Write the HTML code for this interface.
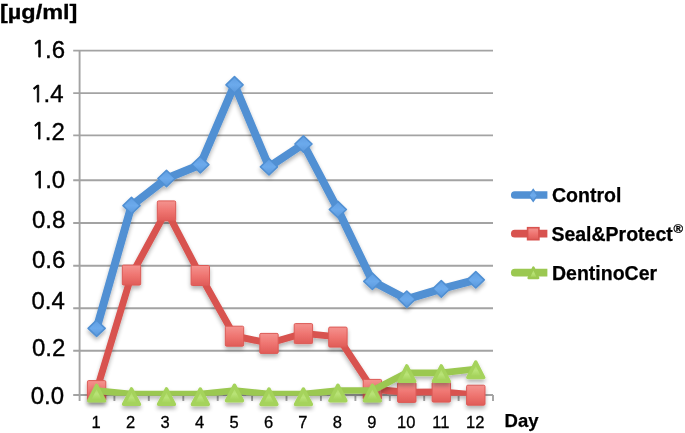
<!DOCTYPE html>
<html><head><meta charset="utf-8"><title>Chart</title>
<style>
html,body{margin:0;padding:0;background:#fff;}
svg{display:block;font-family:"Liberation Sans",sans-serif;}
</style></head><body>
<svg width="685" height="433" viewBox="0 0 685 433">
<defs>
<filter id="sh" x="-10%" y="-10%" width="120%" height="130%">
<feGaussianBlur in="SourceAlpha" stdDeviation="2"/>
<feOffset dx="0" dy="2.6" result="b"/>
<feComponentTransfer><feFuncA type="linear" slope="0.3"/></feComponentTransfer>
<feMerge><feMergeNode/><feMergeNode in="SourceGraphic"/></feMerge>
</filter>
<clipPath id="pa"><rect x="70" y="0" width="440" height="395.8"/></clipPath>
<linearGradient id="gb" x1="0" y1="0" x2="0" y2="1"><stop offset="0" stop-color="#5f9ee2"/><stop offset="0.5" stop-color="#6caaec"/><stop offset="1" stop-color="#5a98dc"/></linearGradient>
<linearGradient id="gr" x1="0" y1="0" x2="0" y2="1"><stop offset="0" stop-color="#f4938f"/><stop offset="0.5" stop-color="#ef7571"/><stop offset="1" stop-color="#e05c58"/></linearGradient>
<linearGradient id="gg" x1="0" y1="0" x2="0" y2="1"><stop offset="0" stop-color="#a8d55e"/><stop offset="0.55" stop-color="#b9e377"/><stop offset="1" stop-color="#a0cf55"/></linearGradient>
</defs>
<rect width="685" height="433" fill="#fff"/>

<g stroke="#a3a3a3" stroke-width="1.9" fill="none">
<line x1="73.2" y1="395.0" x2="493.0" y2="395.0"/>
<line x1="73.2" y1="350.8" x2="493.0" y2="350.8"/>
<line x1="73.2" y1="308.3" x2="493.0" y2="308.3"/>
<line x1="73.2" y1="265.7" x2="493.0" y2="265.7"/>
<line x1="73.2" y1="223.0" x2="493.0" y2="223.0"/>
<line x1="73.2" y1="180.3" x2="493.0" y2="180.3"/>
<line x1="73.2" y1="135.4" x2="493.0" y2="135.4"/>
<line x1="73.2" y1="93.1" x2="493.0" y2="93.1"/>
<line x1="73.2" y1="50.6" x2="493.0" y2="50.6"/>
<line x1="79.6" y1="50.6" x2="79.6" y2="401.0"/>
<line x1="114.4" y1="395.0" x2="114.4" y2="401.0"/>
<line x1="148.8" y1="395.0" x2="148.8" y2="401.0"/>
<line x1="183.3" y1="395.0" x2="183.3" y2="401.0"/>
<line x1="217.7" y1="395.0" x2="217.7" y2="401.0"/>
<line x1="252.1" y1="395.0" x2="252.1" y2="401.0"/>
<line x1="286.5" y1="395.0" x2="286.5" y2="401.0"/>
<line x1="320.9" y1="395.0" x2="320.9" y2="401.0"/>
<line x1="355.4" y1="395.0" x2="355.4" y2="401.0"/>
<line x1="389.8" y1="395.0" x2="389.8" y2="401.0"/>
<line x1="424.2" y1="395.0" x2="424.2" y2="401.0"/>
<line x1="458.6" y1="395.0" x2="458.6" y2="401.0"/>
<line x1="493.0" y1="395.0" x2="493.0" y2="401.0"/>
</g>
<g font-size="24" fill="#000" stroke="#000" stroke-width="0.35" text-anchor="end">
<text x="64.0" y="404.3">0.0</text>
<text x="65.4" y="356.2">0.2</text>
<text x="64.9" y="308.5">0.4</text>
<text x="65.4" y="267.8">0.6</text>
<text x="65.3" y="228.3">0.8</text>
<text x="65.2" y="188.0"><tspan font-family="NanumGothic, 'Liberation Sans', sans-serif" font-size="23.2" stroke-width="0.75" dy="-0.5">1</tspan><tspan dx="-0.8" dy="0.5">.0</tspan></text>
<text x="64.8" y="139.9"><tspan font-family="NanumGothic, 'Liberation Sans', sans-serif" font-size="23.2" stroke-width="0.75" dy="-0.5">1</tspan><tspan dx="-0.8" dy="0.5">.2</tspan></text>
<text x="63.6" y="102.4"><tspan font-family="NanumGothic, 'Liberation Sans', sans-serif" font-size="23.2" stroke-width="0.75" dy="-0.5">1</tspan><tspan dx="-0.8" dy="0.5">.4</tspan></text>
<text x="65.1" y="57.8"><tspan font-family="NanumGothic, 'Liberation Sans', sans-serif" font-size="23.2" stroke-width="0.75" dy="-0.5">1</tspan><tspan dx="-0.8" dy="0.5">.6</tspan></text>
</g>
<text transform="translate(-0.1,19.0) scale(1.12,1)" font-size="21" font-weight="bold" fill="#000" stroke="#000" stroke-width="0.3">[µg/ml]</text>
<g font-size="16.5" fill="#000" stroke="#000" stroke-width="0.3" text-anchor="middle">
<text x="96.1" y="427.6">1</text>
<text x="130.6" y="427.6">2</text>
<text x="165.1" y="427.6">3</text>
<text x="199.5" y="427.6">4</text>
<text x="234.0" y="427.6">5</text>
<text x="268.5" y="427.6">6</text>
<text x="302.9" y="427.6">7</text>
<text x="337.4" y="427.6">8</text>
<text x="371.9" y="427.6">9</text>
<text x="406.3" y="427.6">10</text>
<text x="440.8" y="427.6">11</text>
<text x="475.3" y="427.6">12</text>
</g>
<text x="504.6" y="426.9" font-size="18.5" font-weight="bold" fill="#000" stroke="#000" stroke-width="0.25">Day</text>
<g filter="url(#sh)">
<g clip-path="url(#pa)"><polyline points="96.6,328.3 131.5,205.6 166.5,178.5 200.3,164.7 234.5,84.8 269.0,166.8 303.4,144.0 337.9,209.5 372.4,281.3 406.8,299.2 441.3,288.9 475.8,279.8" fill="none" stroke="#5190d3" stroke-width="8.0" stroke-linejoin="round" stroke-linecap="round"/></g>
<path d="M96.6,320.1 L105.2,328.3 L96.6,336.4 L88.1,328.3 Z" fill="url(#gb)" stroke="#5190d3" stroke-width="1.6" stroke-linejoin="round"/>
<path d="M131.5,197.4 L140.1,205.6 L131.5,213.8 L123.0,205.6 Z" fill="url(#gb)" stroke="#5190d3" stroke-width="1.6" stroke-linejoin="round"/>
<path d="M166.5,170.3 L175.0,178.5 L166.5,186.6 L157.9,178.5 Z" fill="url(#gb)" stroke="#5190d3" stroke-width="1.6" stroke-linejoin="round"/>
<path d="M200.3,156.5 L208.9,164.7 L200.3,172.9 L191.8,164.7 Z" fill="url(#gb)" stroke="#5190d3" stroke-width="1.6" stroke-linejoin="round"/>
<path d="M234.5,76.7 L243.1,84.8 L234.5,93.0 L226.0,84.8 Z" fill="url(#gb)" stroke="#5190d3" stroke-width="1.6" stroke-linejoin="round"/>
<path d="M269.0,158.7 L277.5,166.8 L269.0,175.0 L260.4,166.8 Z" fill="url(#gb)" stroke="#5190d3" stroke-width="1.6" stroke-linejoin="round"/>
<path d="M303.4,135.8 L312.0,144.0 L303.4,152.2 L294.9,144.0 Z" fill="url(#gb)" stroke="#5190d3" stroke-width="1.6" stroke-linejoin="round"/>
<path d="M337.9,201.3 L346.4,209.5 L337.9,217.6 L329.3,209.5 Z" fill="url(#gb)" stroke="#5190d3" stroke-width="1.6" stroke-linejoin="round"/>
<path d="M372.4,273.2 L380.9,281.3 L372.4,289.5 L363.8,281.3 Z" fill="url(#gb)" stroke="#5190d3" stroke-width="1.6" stroke-linejoin="round"/>
<path d="M406.8,291.0 L415.4,299.2 L406.8,307.4 L398.3,299.2 Z" fill="url(#gb)" stroke="#5190d3" stroke-width="1.6" stroke-linejoin="round"/>
<path d="M441.3,280.7 L449.9,288.9 L441.3,297.1 L432.8,288.9 Z" fill="url(#gb)" stroke="#5190d3" stroke-width="1.6" stroke-linejoin="round"/>
<path d="M475.8,271.7 L484.3,279.8 L475.8,288.0 L467.2,279.8 Z" fill="url(#gb)" stroke="#5190d3" stroke-width="1.6" stroke-linejoin="round"/>
</g>
<g filter="url(#sh)">
<g clip-path="url(#pa)"><polyline points="96.6,390.4 131.5,274.9 166.5,210.7 200.3,275.3 234.5,336.0 269.0,343.2 303.4,333.4 337.9,336.9 372.4,389.2 406.8,392.2 441.3,391.9 475.8,395.0" fill="none" stroke="#d8534f" stroke-width="6.9" stroke-linejoin="round" stroke-linecap="round"/></g>
<rect x="87.4" y="380.6" width="18.4" height="20.0" rx="1.2" fill="url(#gr)" stroke="#dc5a56" stroke-width="1"/>
<rect x="122.3" y="265.1" width="18.4" height="20.0" rx="1.2" fill="url(#gr)" stroke="#dc5a56" stroke-width="1"/>
<rect x="157.3" y="200.9" width="18.4" height="20.0" rx="1.2" fill="url(#gr)" stroke="#dc5a56" stroke-width="1"/>
<rect x="191.1" y="265.5" width="18.4" height="20.0" rx="1.2" fill="url(#gr)" stroke="#dc5a56" stroke-width="1"/>
<rect x="225.3" y="326.2" width="18.4" height="20.0" rx="1.2" fill="url(#gr)" stroke="#dc5a56" stroke-width="1"/>
<rect x="259.8" y="333.4" width="18.4" height="20.0" rx="1.2" fill="url(#gr)" stroke="#dc5a56" stroke-width="1"/>
<rect x="294.2" y="323.6" width="18.4" height="20.0" rx="1.2" fill="url(#gr)" stroke="#dc5a56" stroke-width="1"/>
<rect x="328.7" y="327.1" width="18.4" height="20.0" rx="1.2" fill="url(#gr)" stroke="#dc5a56" stroke-width="1"/>
<rect x="363.2" y="379.4" width="18.4" height="20.0" rx="1.2" fill="url(#gr)" stroke="#dc5a56" stroke-width="1"/>
<rect x="397.6" y="382.4" width="18.4" height="20.0" rx="1.2" fill="url(#gr)" stroke="#dc5a56" stroke-width="1"/>
<rect x="432.1" y="382.1" width="18.4" height="20.0" rx="1.2" fill="url(#gr)" stroke="#dc5a56" stroke-width="1"/>
<rect x="466.6" y="385.2" width="18.4" height="20.0" rx="1.2" fill="url(#gr)" stroke="#dc5a56" stroke-width="1"/>
</g>
<g filter="url(#sh)">
<g clip-path="url(#pa)"><polyline points="96.6,390.6 131.5,394.1 166.5,394.1 200.3,394.2 234.5,390.5 269.0,394.2 303.4,394.2 337.9,390.5 372.4,390.5 406.8,372.8 441.3,372.8 475.8,369.0" fill="none" stroke="#9bc851" stroke-width="6.7" stroke-linejoin="round" stroke-linecap="round"/></g>
<path d="M96.6,385.5 L104.5,400.8 L88.8,400.8 Z" fill="url(#gg)" stroke="#a5d35b" stroke-width="3.6" stroke-linejoin="round"/>
<path d="M131.5,389.0 L139.4,404.3 L123.6,404.3 Z" fill="url(#gg)" stroke="#a5d35b" stroke-width="3.6" stroke-linejoin="round"/>
<path d="M166.5,389.0 L174.3,404.3 L158.6,404.3 Z" fill="url(#gg)" stroke="#a5d35b" stroke-width="3.6" stroke-linejoin="round"/>
<path d="M200.3,389.1 L208.2,404.4 L192.5,404.4 Z" fill="url(#gg)" stroke="#a5d35b" stroke-width="3.6" stroke-linejoin="round"/>
<path d="M234.5,385.4 L242.4,400.7 L226.6,400.7 Z" fill="url(#gg)" stroke="#a5d35b" stroke-width="3.6" stroke-linejoin="round"/>
<path d="M269.0,389.1 L276.8,404.4 L261.1,404.4 Z" fill="url(#gg)" stroke="#a5d35b" stroke-width="3.6" stroke-linejoin="round"/>
<path d="M303.4,389.1 L311.3,404.4 L295.6,404.4 Z" fill="url(#gg)" stroke="#a5d35b" stroke-width="3.6" stroke-linejoin="round"/>
<path d="M337.9,385.4 L345.8,400.7 L330.0,400.7 Z" fill="url(#gg)" stroke="#a5d35b" stroke-width="3.6" stroke-linejoin="round"/>
<path d="M372.4,385.4 L380.2,400.7 L364.5,400.7 Z" fill="url(#gg)" stroke="#a5d35b" stroke-width="3.6" stroke-linejoin="round"/>
<path d="M406.8,366.0 L414.7,381.3 L399.0,381.3 Z" fill="url(#gg)" stroke="#a5d35b" stroke-width="3.6" stroke-linejoin="round"/>
<path d="M441.3,366.0 L449.2,381.3 L433.4,381.3 Z" fill="url(#gg)" stroke="#a5d35b" stroke-width="3.6" stroke-linejoin="round"/>
<path d="M475.8,362.2 L483.6,377.5 L467.9,377.5 Z" fill="url(#gg)" stroke="#a5d35b" stroke-width="3.6" stroke-linejoin="round"/>
</g>
<path d="M547.4,191.15 L514.8,191.15 A3.85,3.85 0 0 0 514.8,198.85 L547.4,198.85 Z" fill="#5190d3"/><path d="M533.2,189.4 L537.4,195.4 L533.2,201.4 L529.0,195.4 Z" fill="url(#gb)" stroke="#5190d3" stroke-width="1.4" stroke-linejoin="miter"/>
<path d="M547.4,229.85 L514.8,229.85 A3.85,3.85 0 0 0 514.8,237.54999999999998 L547.4,237.54999999999998 Z" fill="#d8534f"/><rect x="527.6" y="227.7" width="11.3" height="12" fill="url(#gr)" stroke="#d8534f" stroke-width="1.6"/>
<path d="M547.4,268.84999999999997 L514.8,268.84999999999997 A3.85,3.85 0 0 0 514.8,276.55 L547.4,276.55 Z" fill="#9bc851"/><path d="M533.4,267.6 L538.2,278.0 L528.6,278.0 Z" fill="url(#gg)" stroke="#9bc851" stroke-width="2.4" stroke-linejoin="round"/>
<g font-size="19.5" font-weight="bold" fill="#000" stroke="#000" stroke-width="0.25">
<text x="552" y="202.3">Control</text>
<text x="551.4" y="240.5">Seal&amp;Protect<tspan font-size="13" dy="-8" dx="0.6">®</tspan></text>
<text x="552" y="279.8">DentinoCer</text>
</g>
</svg></body></html>
